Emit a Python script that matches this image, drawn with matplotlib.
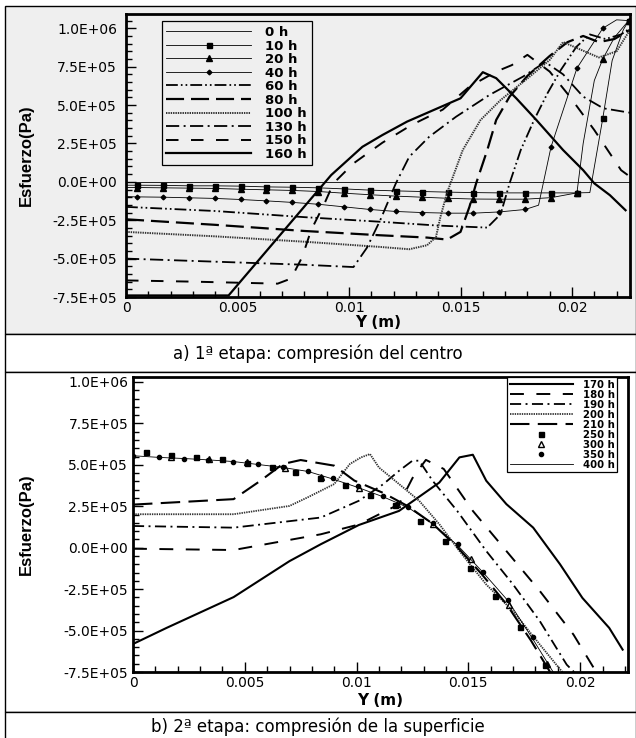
import matplotlib
matplotlib.use('Agg')
import matplotlib.pyplot as plt
from matplotlib.patches import Rectangle
from matplotlib.ticker import MultipleLocator, FuncFormatter

plt.rcParams['font.family'] = ['DejaVu Sans']
plt.rcParams['lines.scale_dashes'] = False

PANEL_BG = '#efefef'
W, H = 636, 738

# ---- stage 1: compression of the centre ----
NODES_A = [0.0005, 0.00166, 0.00282, 0.00398, 0.00514, 0.0063, 0.00746, 0.00862, 0.00978, 0.01094,
           0.0121, 0.01326, 0.01442, 0.01558, 0.01674, 0.0179, 0.01906, 0.02022, 0.02138, 0.02254]

X_0H = [0.0, 0.0226]
S_0H = [0.0, 0.0]

X_10H = [0.0] + NODES_A[:18] + [0.0208, NODES_A[18], 0.0218, 0.0223, NODES_A[19]]
S_10H = [-2.2e4, -2.2e4, -2.3e4, -2.6e4, -2.6e4, -2.8e4, -3.3e4, -3.5e4, -3.9e4, -4.6e4, -5.4e4,
         -5.9e4, -6.3e4, -6.7e4, -7.0e4, -7.2e4, -7.2e4, -7.2e4, -7.2e4,
         -7.0e4, 4.14e5, 7.9e5, 9.9e5, 1.05e6]

X_20H = [0.0] + NODES_A[:18] + [0.0205, 0.0210, NODES_A[18], 0.0219, NODES_A[19]]
S_20H = [-3.7e4, -3.7e4, -3.9e4, -4.1e4, -4.3e4, -4.8e4, -5.2e4, -5.6e4, -6.3e4, -7.4e4, -8.4e4,
         -9.3e4, -1.0e5, -1.07e5, -1.12e5, -1.13e5, -1.13e5, -1.03e5, -7.2e4,
         2.5e5, 6.6e5, 8.0e5, 9.4e5, 1.05e6]

X_40H = [0.0] + NODES_A[:16] + [0.0185, NODES_A[16], NODES_A[17], NODES_A[18], 0.0220, NODES_A[19]]
S_40H = [-9.6e4, -9.8e4, -1.0e5, -1.04e5, -1.08e5, -1.15e5, -1.24e5, -1.34e5, -1.46e5, -1.63e5, -1.8e5,
         -1.93e5, -2.0e5, -2.04e5, -2.04e5, -1.96e5, -1.8e5,
         -1.52e5, 2.28e5, 7.4e5, 1.0e6, 1.055e6, 1.05e6]

X_60H = [0.0, 0.004, 0.008, 0.0114, 0.014, 0.0162, 0.0168, 0.0172, 0.0177, 0.0183, 0.0189, 0.0195,
         0.0202, 0.0208, 0.0215, 0.0222, 0.0226]
S_60H = [-1.63e5, -1.9e5, -2.3e5, -2.6e5, -2.85e5, -2.98e5, -2.1e5, -1.0e4, 2.07e5, 4.03e5, 5.77e5,
         7.29e5, 8.8e5, 9.6e5, 9.3e5, 9.6e5, 1.0e6]

X_80H = [0.0, 0.004, 0.008, 0.0114, 0.0135, 0.0144, 0.015, 0.0154, 0.0157, 0.0162, 0.0166, 0.0172,
         0.018, 0.019, 0.0198, 0.0205, 0.0212, 0.0219, 0.0226]
S_80H = [-2.44e5, -2.8e5, -3.2e5, -3.48e5, -3.63e5, -3.76e5, -3.26e5, -1.63e5, -1.0e4, 2.07e5, 4.03e5,
         5.55e5, 6.9e5, 8.2e5, 9.1e5, 9.5e5, 9.1e5, 9.3e5, 9.9e5]

X_100H = [0.0, 0.004, 0.008, 0.0114, 0.0127, 0.0135, 0.0139, 0.0141, 0.0144, 0.0151, 0.0159, 0.0168,
          0.0181, 0.019, 0.0196, 0.0204, 0.0212, 0.022, 0.0226]
S_100H = [-3.26e5, -3.55e5, -3.9e5, -4.24e5, -4.39e5, -4.13e5, -3.59e5, -2.28e5, -7.0e4, 2.07e5, 4.03e5,
          5.33e5, 6.85e5, 7.94e5, 9.1e5, 8.6e5, 8.1e5, 8.5e5, 9.9e5]

X_130H = [0.0, 0.004, 0.008, 0.0102, 0.0108, 0.0114, 0.0121, 0.0127, 0.0136, 0.0148, 0.0163, 0.0178,
          0.0188, 0.0196, 0.0205, 0.0214, 0.0226]
S_130H = [-5.0e5, -5.2e5, -5.4e5, -5.55e5, -4.3e5, -2.5e5, -1.0e4, 1.63e5, 2.94e5, 4.24e5, 5.66e5,
          6.85e5, 7.8e5, 7.0e5, 5.55e5, 4.79e5, 4.5e5]

X_150H = [0.0, 0.003, 0.0068, 0.0074, 0.0079, 0.0083, 0.0089, 0.0093, 0.0102, 0.0115, 0.0128, 0.0142,
          0.0154, 0.0166, 0.0173, 0.018, 0.019, 0.0199, 0.021, 0.0222, 0.0225]
S_150H = [-6.42e5, -6.5e5, -6.63e5, -6.3e5, -4.9e5, -3.15e5, -1.41e5, -1.0e4, 1.2e5, 2.55e5, 3.7e5,
          4.7e5, 6.2e5, 7.18e5, 7.6e5, 8.27e5, 7.18e5, 5.55e5, 3.37e5, 7.6e4, 4.4e4]

X_160H = [0.0, 0.0046, 0.0092, 0.0106, 0.0115, 0.0126, 0.015, 0.016, 0.0166, 0.0175, 0.0184, 0.0196,
          0.0205, 0.021, 0.0217, 0.0224]
S_160H = [-7.4e5, -7.4e5, 4.4e4, 2.28e5, 3.05e5, 3.92e5, 5.44e5, 7.14e5, 6.75e5, 5.44e5, 4.03e5,
          2.07e5, 7.6e4, -1.0e4, -8.7e4, -1.85e5]

# ---- stage 2: compression of the surface ----
NODES_B = [0.0, 0.00115, 0.0023, 0.00336, 0.00448, 0.0056, 0.00671, 0.00783, 0.00895, 0.01007,
           0.01119, 0.01231, 0.01343, 0.01455, 0.01567, 0.01679, 0.0179, 0.01902]

X_170H = [0.0, 0.0015, 0.0045, 0.007, 0.0084, 0.0101, 0.0119, 0.0137, 0.0146, 0.0152, 0.0158, 0.0167,
          0.0179, 0.0191, 0.0201, 0.0213, 0.0219]
S_170H = [-5.81e5, -4.84e5, -2.98e5, -8.1e4, 2.1e4, 1.37e5, 2.22e5, 3.93e5, 5.45e5, 5.61e5, 4.04e5,
          2.63e5, 1.21e5, -1.0e5, -3.03e5, -4.84e5, -6.15e5]

X_180H = [0.0, 0.0045, 0.0084, 0.0101, 0.0119, 0.0125, 0.0131, 0.0139, 0.0152, 0.0167, 0.0182, 0.0197, 0.0207]
S_180H = [-6.0e3, -1.4e4, 8.1e4, 1.4e5, 2.62e5, 4.2e5, 5.3e5, 4.75e5, 2.22e5, -2.0e4, -2.62e5, -5.24e5, -7.46e5]

X_190H = [0.0, 0.0045, 0.0084, 0.0101, 0.0112, 0.0119, 0.0125, 0.0128, 0.0134, 0.0145, 0.0158, 0.017,
          0.0182, 0.0194, 0.0198]
S_190H = [1.31e5, 1.21e5, 1.82e5, 2.83e5, 3.84e5, 4.64e5, 5.25e5, 5.25e5, 4.04e5, 2.22e5, -2.0e4,
          -2.22e5, -4.44e5, -7.06e5, -7.6e5]

X_200H = [0.0, 0.0045, 0.007, 0.0078, 0.009, 0.0097, 0.0102, 0.0106, 0.011, 0.0119, 0.0128, 0.0137,
          0.0146, 0.0158, 0.017, 0.0182, 0.0193]
S_200H = [2.02e5, 2.02e5, 2.52e5, 3.03e5, 3.84e5, 5.05e5, 5.45e5, 5.65e5, 4.84e5, 3.84e5, 2.83e5,
          1.42e5, -2.0e4, -2.22e5, -3.83e5, -5.85e5, -7.66e5]

X_210H = [0.0, 0.0045, 0.0057, 0.0067, 0.0075, 0.009, 0.0099, 0.0112, 0.0123, 0.0134, 0.0145, 0.0156,
          0.0167, 0.0178, 0.0187]
S_210H = [2.6e5, 2.93e5, 4.04e5, 5.05e5, 5.29e5, 4.95e5, 4.05e5, 3.3e5, 2.5e5, 1.45e5, 5.0e3, -1.6e5,
          -3.4e5, -5.6e5, -7.6e5]

X_250H = [0.0006, 0.00172, 0.00284, 0.00396, 0.00508, 0.0062, 0.00724, 0.00836, 0.00948, 0.0106,
          0.01172, 0.01283, 0.01395, 0.01507, 0.01619, 0.0173, 0.01843]
S_250H = [5.75e5, 5.61e5, 5.49e5, 5.35e5, 5.09e5, 4.84e5, 4.54e5, 4.2e5, 3.77e5, 3.17e5, 2.57e5,
          1.62e5, 4.0e4, -1.25e5, -2.92e5, -4.8e5, -7.06e5]

X_300H = [0.0017, 0.0034, 0.0051, 0.0068, 0.0084, 0.0101, 0.0118, 0.0134, 0.0151, 0.0168, 0.0185]
S_300H = [5.5e5, 5.35e5, 5.15e5, 4.8e5, 4.24e5, 3.63e5, 2.63e5, 1.42e5, -7.0e4, -3.43e5, -7.0e5]

S_350H = [5.55e5, 5.45e5, 5.36e5, 5.3e5, 5.2e5, 5.05e5, 4.84e5, 4.6e5, 4.2e5, 3.7e5, 3.1e5, 2.45e5,
          1.5e5, 2.5e4, -1.45e5, -3.15e5, -5.4e5, -7.9e5]
S_400H = [5.55e5, 5.45e5, 5.38e5, 5.3e5, 5.2e5, 5.02e5, 4.84e5, 4.6e5, 4.14e5, 3.63e5, 3.07e5, 2.42e5,
          1.42e5, 1.0e4, -1.51e5, -3.23e5, -5.55e5, -8.0e5]

CAPTION_A = 'a) 1ª etapa: compresión del centro'
CAPTION_B = 'b) 2ª etapa: compresión de la superficie'

DOTS = (0, (1.0, 0.7))


def fx(px):
    return px / W


def fy(py):
    return 1 - py / H


def node_marks(xs, nodes):
    return [i for i, x in enumerate(xs) if x in nodes]


def style_axes(ax, xmax, ymax, ypad, bg):
    ax.set_xlim(0, xmax)
    ax.set_ylim(-7.5e5, ymax)
    ax.set_facecolor(bg)
    ax.xaxis.set_major_locator(MultipleLocator(0.005))
    ax.xaxis.set_minor_locator(MultipleLocator(0.001))
    ax.yaxis.set_major_locator(MultipleLocator(2.5e5))
    ax.yaxis.set_minor_locator(MultipleLocator(5e4))
    ax.xaxis.set_major_formatter(FuncFormatter(lambda v, p: '0' if abs(v) < 1e-12 else f'{v:g}'))
    ax.yaxis.set_major_formatter(FuncFormatter(lambda v, p: f'{v:.1E}'))
    ax.tick_params(which='both', direction='in', top=False, right=False, width=1.0, labelsize=10)
    ax.tick_params(which='major', length=7.5)
    ax.tick_params(which='minor', length=4)
    ax.tick_params(axis='x', pad=3)
    ax.tick_params(axis='y', pad=ypad)
    for sp in ax.spines.values():
        sp.set_linewidth(2.0)


fig = plt.figure(figsize=(W / 100, H / 100), dpi=100)
fig.patch.set_facecolor('white')

# panel backgrounds and caption boxes
for top, bot, col in [(6, 334, PANEL_BG), (334, 372, 'white'), (372, 712, 'white'), (712, 745, 'white')]:
    fig.patches.append(Rectangle((fx(5), fy(bot)), fx(635.5) - fx(5), fy(top) - fy(bot),
                                 transform=fig.transFigure, facecolor=col, edgecolor='black',
                                 linewidth=1.0, zorder=-10))

fig.text(0.5, fy(354), CAPTION_A, ha='center', va='center', fontsize=12)
fig.text(0.5, fy(727), CAPTION_B, ha='center', va='center', fontsize=12)

# ---- top chart ----
ax1 = fig.add_axes([fx(126), fy(297), fx(630) - fx(126), fy(14) - fy(297)])
style_axes(ax1, 0.0226, 1.093e6, 6.5, PANEL_BG)

ax1.plot(X_0H, S_0H, color='black', lw=0.6, label='0 h')
ax1.plot(X_10H, S_10H, color='black', lw=0.6, marker='s', ms=3.6,
         markevery=node_marks(X_10H, NODES_A), label='10 h')
ax1.plot(X_20H, S_20H, color='black', lw=0.6, marker='^', ms=4.2,
         markevery=node_marks(X_20H, NODES_A), label='20 h')
ax1.plot(X_40H, S_40H, color='black', lw=0.6, marker='D', ms=2.4,
         markevery=node_marks(X_40H, NODES_A), label='40 h')
ax1.plot(X_60H, S_60H, color='black', lw=1.3, ls=(0, (8.5, 2.2, 1.2, 2.2, 1.2, 2.2)), label='60 h')
ax1.plot(X_80H, S_80H, color='black', lw=1.6, ls=(0, (13, 5)), label='80 h')
ax1.plot(X_100H, S_100H, color='#333333', lw=1.4, ls=DOTS, label='100 h')
ax1.plot(X_130H, S_130H, color='black', lw=1.3, ls=(0, (9.5, 3.2, 1.4, 3.2)), label='130 h')
ax1.plot(X_150H, S_150H, color='black', lw=1.4, ls=(0, (9, 9)), label='150 h')
ax1.plot(X_160H, S_160H, color='black', lw=1.6, label='160 h')

ax1.set_xlabel('Y (m)', fontsize=11, fontweight='bold')
ax1.xaxis.set_label_coords(0.5, -0.063)
ax1.set_ylabel('Esfuerzo(Pa)', fontsize=12, fontweight='bold', family=['Liberation Sans', 'DejaVu Sans'])
ax1.yaxis.set_label_coords(-0.183, 0.5)

leg1 = ax1.legend(loc='upper left', bbox_to_anchor=(0.071, 0.974), prop={'weight': 'bold', 'size': 9.5},
                  handlelength=6.4, handletextpad=1.1, labelspacing=0.04, borderpad=0.35,
                  numpoints=1, fancybox=False, framealpha=1, borderaxespad=0)
leg1.get_frame().set_facecolor(PANEL_BG)
leg1.get_frame().set_edgecolor('black')
leg1.get_frame().set_linewidth(0.9)

# ---- bottom chart ----
ax2 = fig.add_axes([fx(133), fy(672), fx(628) - fx(133), fy(377) - fy(672)])
style_axes(ax2, 0.02214, 1.03e6, 3.5, 'white')

ax2.plot(X_170H, S_170H, color='black', lw=1.5, label='170 h')
ax2.plot(X_180H, S_180H, color='black', lw=1.4, ls=(0, (10, 9)), label='180 h')
ax2.plot(X_190H, S_190H, color='black', lw=1.3, ls=(0, (8, 3.2, 1.4, 3.2)), label='190 h')
ax2.plot(X_200H, S_200H, color='#333333', lw=1.3, ls=DOTS, label='200 h')
ax2.plot(X_210H, S_210H, color='black', lw=1.5, ls=(0, (14, 6)), label='210 h')
ax2.plot(X_250H, S_250H, ls='none', marker='s', ms=3.6, color='black', label='250 h')
ax2.plot(X_300H, S_300H, ls='none', marker='^', ms=4.2, mfc='none', mec='black', mew=1.0, label='300 h')
ax2.plot(NODES_B, S_350H, ls='none', marker='o', ms=3.0, color='black', label='350 h')
ax2.plot(NODES_B, S_400H, color='black', lw=0.6, label='400 h')

ax2.set_xlabel('Y (m)', fontsize=11, fontweight='bold')
ax2.xaxis.set_label_coords(0.5, -0.07)
ax2.set_ylabel('Esfuerzo(Pa)', fontsize=12, fontweight='bold', family=['Liberation Sans', 'DejaVu Sans'])
ax2.yaxis.set_label_coords(-0.2, 0.5)

leg2 = ax2.legend(loc='upper left', bbox_to_anchor=(0.756, 1.0), prop={'weight': 'bold', 'size': 7.3},
                  handlelength=6.2, handletextpad=1.0, labelspacing=0.0, borderpad=0.25,
                  numpoints=1, fancybox=False, framealpha=1, borderaxespad=0)
leg2.get_frame().set_facecolor('white')
leg2.get_frame().set_edgecolor('black')
leg2.get_frame().set_linewidth(0.9)

fig.savefig('out.png', dpi=100, facecolor='white')
plt.close(fig)
